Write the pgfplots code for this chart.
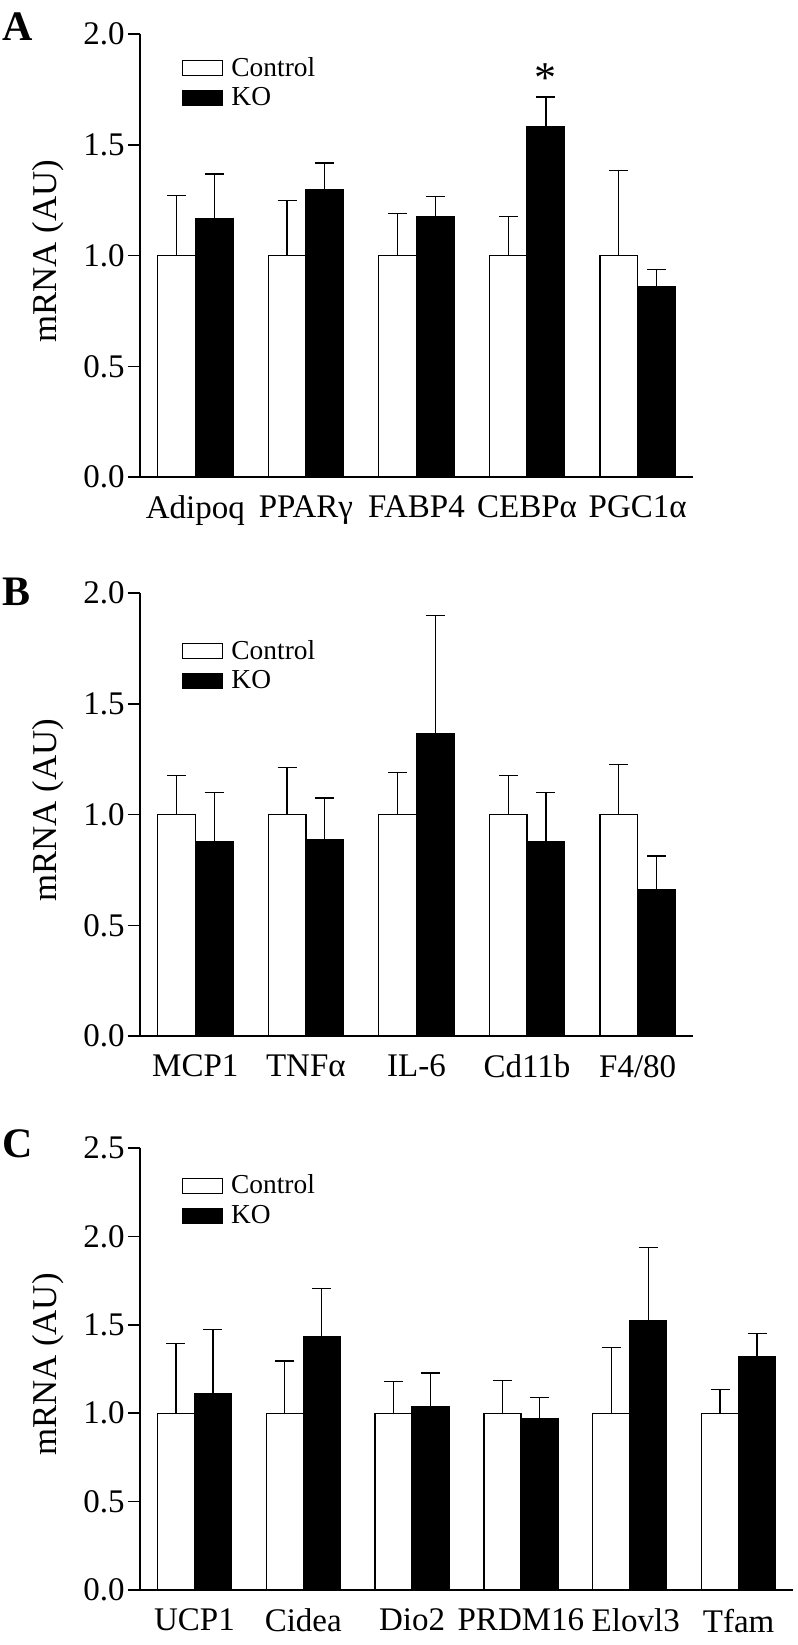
\documentclass[border=0pt]{standalone}
\usepackage{fontspec}
\setmainfont{Liberation Serif}
\usepackage{pgfplots}
\pgfplotsset{compat=1.18}

\newcommand{\tickfont}{\rmfamily\fontsize{16.5}{19}\selectfont}
\newcommand{\legfont}{\rmfamily\fontsize{13.7}{15}\selectfont}

\pgfplotsset{
  eb/.style={
    error bars/y dir=plus, error bars/y explicit,
    error bars/error bar style={line width=0.6pt, black},
    error bars/error mark options={line width=0.6pt, black, mark size=4.75pt, rotate=90},
  },
  mrna/.style={
    scale only axis,
    height=221.5pt,
    axis lines=left,
    axis line style={-, line width=0.75pt},
    ybar, bar width=0.34,
    ymin=0, xmin=-0.5,
    /pgf/number format/assume math mode=true,
    ticklabel style={font=\tickfont},
    yticklabel style={/pgf/number format/fixed, /pgf/number format/fixed zerofill, /pgf/number format/precision=1, inner xsep=1.5pt},
    tick align=outside,
    major tick length=6pt,
    ytick style={line width=0.75pt, black},
    xtick style={draw=none},
    ylabel={\fontsize{17.4}{19}\selectfont mRNA (AU)},
    every axis plot/.append style={line width=0.6pt, draw=black},
    legend style={draw=none, fill=none, inner sep=0pt, font=\legfont,
      nodes={inner sep=1.2pt, text depth=0.15em}, column sep=3pt, row sep=1.9pt},
    legend cell align=left,
    legend image code/.code={\draw[#1, line width=0.6pt] (0pt,-3.75pt) rectangle (20pt,3.75pt);},
  },
}

\begin{document}
\begin{tikzpicture}
\useasboundingbox (0,0) rectangle (399pt,-822.5pt);

% ---------- A ----------
\begin{axis}[mrna,
    at={(70pt,-238.5pt)}, anchor=south west,
    width=276.5pt, xmax=4.5, ymax=2,
    ytick={0,0.5,...,2},
    xtick={0,...,4},
    xticklabels={Adipoq, PPARγ, FABP4, CEBPα, PGC1α},
    ylabel style={at={(axis description cs:-0.166,0.51)}, anchor=center},
    legend style={at={(axis description cs:0.075,0.954)}, anchor=north west},
]
\addplot[fill=white, bar shift=-0.17, eb] coordinates {
    (0,1) +- (0,0.27)
    (1,1) +- (0,0.25)
    (2,1) +- (0,0.19)
    (3,1) +- (0,0.175)
    (4,1) +- (0,0.385)
};
\addplot[fill=black, bar shift=0.17, eb] coordinates {
    (0,1.165) +- (0,0.203)
    (1,1.296) +- (0,0.122)
    (2,1.175) +- (0,0.09)
    (3,1.58)  +- (0,0.136)
    (4,0.858) +- (0,0.08)
};
\legend{Control, KO}
\node[font=\fontsize{22}{22}\selectfont] at (axis cs:3.17,1.80) {*};
\end{axis}

% ---------- B ----------
\begin{axis}[mrna,
    at={(70pt,-518pt)}, anchor=south west,
    width=276.5pt, xmax=4.5, ymax=2,
    ytick={0,0.5,...,2},
    xtick={0,...,4},
    xticklabels={MCP1, TNFα, IL-6, Cd11b, F4/80},
    ylabel style={at={(axis description cs:-0.166,0.51)}, anchor=center},
    legend style={at={(axis description cs:0.075,0.900)}, anchor=north west},
]
\addplot[fill=white, bar shift=-0.17, eb] coordinates {
    (0,1) +- (0,0.175)
    (1,1) +- (0,0.212)
    (2,1) +- (0,0.19)
    (3,1) +- (0,0.175)
    (4,1) +- (0,0.227)
};
\addplot[fill=black, bar shift=0.17, eb] coordinates {
    (0,0.877) +- (0,0.222)
    (1,0.886) +- (0,0.189)
    (2,1.366) +- (0,0.532)
    (3,0.877) +- (0,0.222)
    (4,0.661) +- (0,0.152)
};
\legend{Control, KO}
\end{axis}

% ---------- C ----------
\begin{axis}[mrna,
    at={(70pt,-795pt)}, anchor=south west,
    width=326.5pt, height=221pt, xmax=5.5, ymax=2.5,
    ytick={0,0.5,...,2.5},
    xtick={0,...,5},
    xticklabels={UCP1, Cidea, Dio2, PRDM16, \hspace{6pt}Elovl3, Tfam},
    ylabel style={at={(axis description cs:-0.141,0.51)}, anchor=center},
    legend style={at={(axis description cs:0.063,0.946)}, anchor=north west},
]
\addplot[fill=white, bar shift=-0.17, eb] coordinates {
    (0,1) +- (0,0.395)
    (1,1) +- (0,0.295)
    (2,1) +- (0,0.179)
    (3,1) +- (0,0.186)
    (4,1) +- (0,0.372)
    (5,1) +- (0,0.135)
};
\addplot[fill=black, bar shift=0.17, eb] coordinates {
    (0,1.109) +- (0,0.365)
    (1,1.434) +- (0,0.272)
    (2,1.039) +- (0,0.188)
    (3,0.970) +- (0,0.12)
    (4,1.526) +- (0,0.41)
    (5,1.318) +- (0,0.135)
};
\legend{Control, KO}
\end{axis}

% panel letters
\node[anchor=base west, inner sep=0pt, font=\fontsize{21}{21}\selectfont\bfseries] at (1pt,-20pt) {A};
\node[anchor=base west, inner sep=0pt, font=\fontsize{21}{21}\selectfont\bfseries] at (1pt,-302.5pt) {B};
\node[anchor=base west, inner sep=0pt, font=\fontsize{21}{21}\selectfont\bfseries] at (1pt,-578.5pt) {C};
\end{tikzpicture}
\end{document}
